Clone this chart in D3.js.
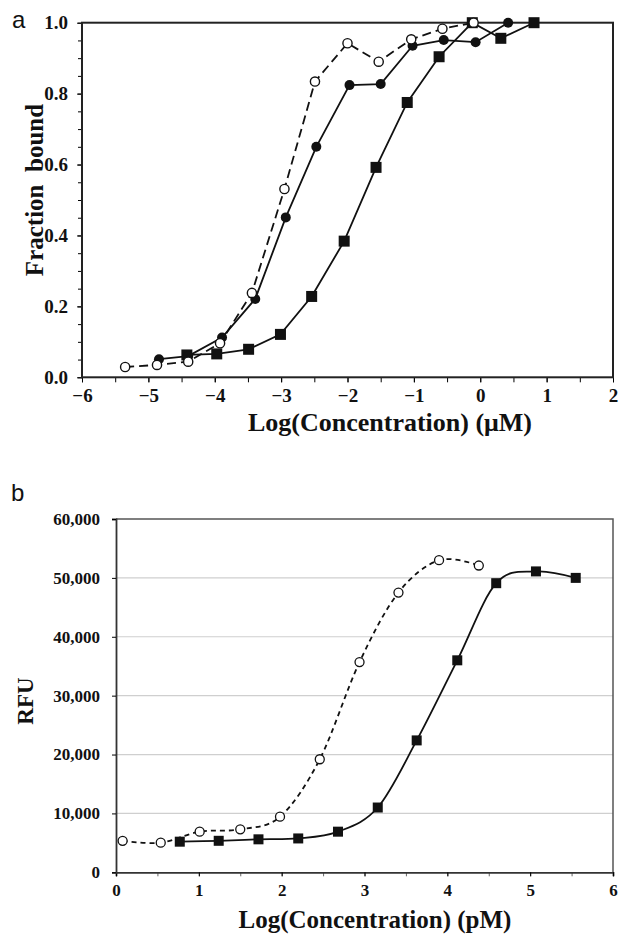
<!DOCTYPE html>
<html>
<head>
<meta charset="utf-8">
<script src="https://cdn.jsdelivr.net/npm/d3@7"></script>
<style>
  body { margin: 0; background: #fff; }
  svg text { fill: #111; }
</style>
</head>
<body>
<div id="chart"></div>
<script>
// ---- panel a : fraction bound vs log concentration (uM) ----
const openA_x = [-5.35, -4.87, -4.40, -3.92, -3.44, -2.95, -2.49, -2.00, -1.53, -1.04, -0.57, -0.10];
const openA_y = [0.029, 0.035, 0.044, 0.096, 0.238, 0.531, 0.834, 0.942, 0.890, 0.953, 0.983, 1.0];
const filledA_x = [-4.84, -4.40, -3.89, -3.39, -2.93, -2.47, -1.97, -1.50, -1.02, -0.55, -0.07, 0.42];
const filledA_y = [0.051, 0.060, 0.112, 0.221, 0.451, 0.650, 0.824, 0.827, 0.935, 0.951, 0.945, 1.0];
const squareA_x = [-4.42, -3.97, -3.49, -3.01, -2.54, -2.05, -1.57, -1.10, -0.62, -0.12, 0.31, 0.81];
const squareA_y = [0.063, 0.066, 0.079, 0.121, 0.228, 0.384, 0.592, 0.775, 0.904, 1.0, 0.956, 1.0];
const ticksA_x = [-6, -5, -4, -3, -2, -1, 0, 1, 2];
const ticksA_y = [0.0, 0.2, 0.4, 0.6, 0.8, 1.0];

// ---- panel b : RFU vs log concentration (pM) ----
const openB_x = [0.08, 0.54, 1.01, 1.50, 1.98, 2.46, 2.94, 3.41, 3.90, 4.38];
const openB_y = [5350, 5030, 6900, 7300, 9450, 19200, 35700, 47500, 53000, 52100];
const squareB_x = [0.77, 1.24, 1.72, 2.20, 2.68, 3.16, 3.63, 4.12, 4.59, 5.07, 5.55];
const squareB_y = [5200, 5350, 5600, 5750, 6900, 11000, 22400, 36000, 49100, 51100, 50000];
const ticksB_x = [0, 1, 2, 3, 4, 5, 6];
const ticksB_y = [0, 10000, 20000, 30000, 40000, 50000, 60000];

const W = 619, H = 935;
const serif = "'Liberation Serif', 'Times New Roman', serif";
const sans = "'Liberation Sans', Arial, sans-serif";
const ink = "#111";

const svg = d3.select("#chart").append("svg")
  .attr("width", W).attr("height", H);

const zip = (xs, ys) => xs.map((x, i) => ({ x: x, y: ys[i] }));

// ================= panel a =================
const xA = d3.scaleLinear().domain([-6, 2]).range([82, 613]);
const yA = d3.scaleLinear().domain([0, 1]).range([377.3, 22.7]);
const gA = svg.append("g");

// minor ticks (x every 0.5, y every 0.05)
gA.append("g")
  .attr("transform", `translate(0,${yA(0)})`)
  .call(d3.axisBottom(xA).tickValues(d3.range(-6, 2.01, 0.5)).tickSize(5).tickFormat(""))
  .call(g => g.select(".domain").remove());
gA.append("g")
  .attr("transform", `translate(${xA(-6)},0)`)
  .call(d3.axisLeft(yA).tickValues(d3.range(0, 1.001, 0.05)).tickSize(4).tickFormat(""))
  .call(g => g.select(".domain").remove());

// labelled axes
gA.append("g")
  .attr("class", "axis")
  .attr("transform", `translate(0,${yA(0)})`)
  .call(d3.axisBottom(xA).tickValues(ticksA_x).tickSize(5).tickPadding(6).tickFormat(d3.format("d")))
  .call(g => g.select(".domain").remove());
gA.append("g")
  .attr("class", "axis")
  .attr("transform", `translate(${xA(-6)},0)`)
  .call(d3.axisLeft(yA).tickValues(ticksA_y).tickSize(5).tickPadding(9).tickFormat(d3.format(".1f")))
  .call(g => g.select(".domain").remove());

gA.selectAll(".axis text")
  .style("font-family", serif).style("font-weight", "bold").style("font-size", "19px").attr("fill", ink);

// frame
gA.append("rect")
  .attr("x", xA(-6)).attr("y", yA(1))
  .attr("width", xA(2) - xA(-6)).attr("height", yA(0) - yA(1))
  .attr("fill", "none").attr("stroke", "#222").attr("stroke-width", 2);

const lineA = d3.line().x(d => xA(d.x)).y(d => yA(d.y));

const sqA = zip(squareA_x, squareA_y);
const fcA = zip(filledA_x, filledA_y);
const ocA = zip(openA_x, openA_y);

gA.append("path").datum(sqA).attr("d", lineA)
  .attr("fill", "none").attr("stroke", ink).attr("stroke-width", 1.8);
gA.append("path").datum(fcA).attr("d", lineA)
  .attr("fill", "none").attr("stroke", ink).attr("stroke-width", 1.8);
gA.append("path").datum(ocA).attr("d", lineA)
  .attr("fill", "none").attr("stroke", ink).attr("stroke-width", 1.8)
  .attr("stroke-dasharray", "9,5");

gA.selectAll("rect.sq").data(sqA).join("rect").attr("class", "sq")
  .attr("x", d => xA(d.x) - 5.5).attr("y", d => yA(d.y) - 5.5)
  .attr("width", 11).attr("height", 11).attr("fill", ink);
gA.selectAll("circle.fc").data(fcA).join("circle").attr("class", "fc")
  .attr("cx", d => xA(d.x)).attr("cy", d => yA(d.y)).attr("r", 5).attr("fill", ink);
gA.selectAll("circle.oc").data(ocA).join("circle").attr("class", "oc")
  .attr("cx", d => xA(d.x)).attr("cy", d => yA(d.y)).attr("r", 4.6)
  .attr("fill", "#fff").attr("stroke", ink).attr("stroke-width", 1.4);

// titles
gA.append("text").attr("x", 390).attr("y", 431)
  .attr("text-anchor", "middle")
  .style("font-family", serif).style("font-weight", "bold").style("font-size", "26px")
  .text("Log(Concentration) (\u03bcM)");
gA.append("text")
  .attr("transform", `translate(43,190) rotate(-90)`)
  .attr("text-anchor", "middle")
  .style("font-family", serif).style("font-weight", "bold").style("font-size", "25px")
  .text("Fraction\u00a0 bound");
gA.append("text").attr("x", 12).attr("y", 28)
  .style("font-family", sans).style("font-size", "24px")
  .text("a");

// ================= panel b =================
const xB = d3.scaleLinear().domain([0, 6]).range([116, 613]);
const yB = d3.scaleLinear().domain([0, 60000]).range([872.3, 519]);
const gB = svg.append("g");

// gridlines
gB.selectAll("line.grid").data(ticksB_y.filter(v => v > 0 && v < 60000)).join("line")
  .attr("class", "grid")
  .attr("x1", xB(0)).attr("x2", xB(6))
  .attr("y1", d => yB(d)).attr("y2", d => yB(d))
  .attr("stroke", "#cfcfcf").attr("stroke-width", 1.2);

// top and right border
gB.append("path")
  .attr("d", `M${xB(0)},${yB(60000)}H${xB(6)}V${yB(0)}`)
  .attr("fill", "none").attr("stroke", "#555").attr("stroke-width", 1.5);

gB.append("g")
  .attr("transform", `translate(0,${yB(0)})`)
  .call(d3.axisBottom(xB).tickValues(d3.range(0, 6.01, 0.5)).tickSize(4).tickFormat(""))
  .call(g => g.select(".domain").remove())
  .call(g => g.selectAll("line").attr("stroke", "#666"));

gB.append("g")
  .attr("class", "axis")
  .attr("transform", `translate(0,${yB(0)})`)
  .call(d3.axisBottom(xB).tickValues(ticksB_x).tickSize(4).tickPadding(8).tickFormat(d3.format("d")))
  .call(g => g.select(".domain").attr("stroke", "#333").attr("stroke-width", 1.8));
gB.append("g")
  .attr("class", "axis")
  .attr("transform", `translate(${xB(0)},0)`)
  .call(d3.axisLeft(yB).tickValues(ticksB_y).tickSize(4).tickPadding(12).tickFormat(d3.format(",")))
  .call(g => g.select(".domain").attr("stroke", "#333").attr("stroke-width", 1.8));

gB.selectAll(".axis text")
  .style("font-family", serif).style("font-weight", "bold").style("font-size", "17px").attr("fill", ink);

const curveB = d3.line().x(d => xB(d.x)).y(d => yB(d.y)).curve(d3.curveCardinal.tension(0));

const sqB = zip(squareB_x, squareB_y);
const ocB = zip(openB_x, openB_y);

gB.append("path").datum(sqB).attr("d", curveB)
  .attr("fill", "none").attr("stroke", ink).attr("stroke-width", 1.8);
gB.append("path").datum(ocB).attr("d", curveB)
  .attr("fill", "none").attr("stroke", ink).attr("stroke-width", 1.8)
  .attr("stroke-dasharray", "5,4");

gB.selectAll("rect.sq").data(sqB).join("rect").attr("class", "sq")
  .attr("x", d => xB(d.x) - 5).attr("y", d => yB(d.y) - 5)
  .attr("width", 10).attr("height", 10).attr("fill", ink);
gB.selectAll("circle.oc").data(ocB).join("circle").attr("class", "oc")
  .attr("cx", d => xB(d.x)).attr("cy", d => yB(d.y)).attr("r", 4.5)
  .attr("fill", "#fff").attr("stroke", ink).attr("stroke-width", 1.3);

gB.append("text").attr("x", 375).attr("y", 928)
  .attr("text-anchor", "middle")
  .style("font-family", serif).style("font-weight", "bold").style("font-size", "25px")
  .text("Log(Concentration) (pM)");
gB.append("text")
  .attr("transform", `translate(33,701) rotate(-90)`)
  .attr("text-anchor", "middle")
  .style("font-family", serif).style("font-weight", "bold").style("font-size", "23px")
  .text("RFU");
gB.append("text").attr("x", 11).attr("y", 501)
  .style("font-family", sans).style("font-size", "24px")
  .text("b");
</script>
</body>
</html>
